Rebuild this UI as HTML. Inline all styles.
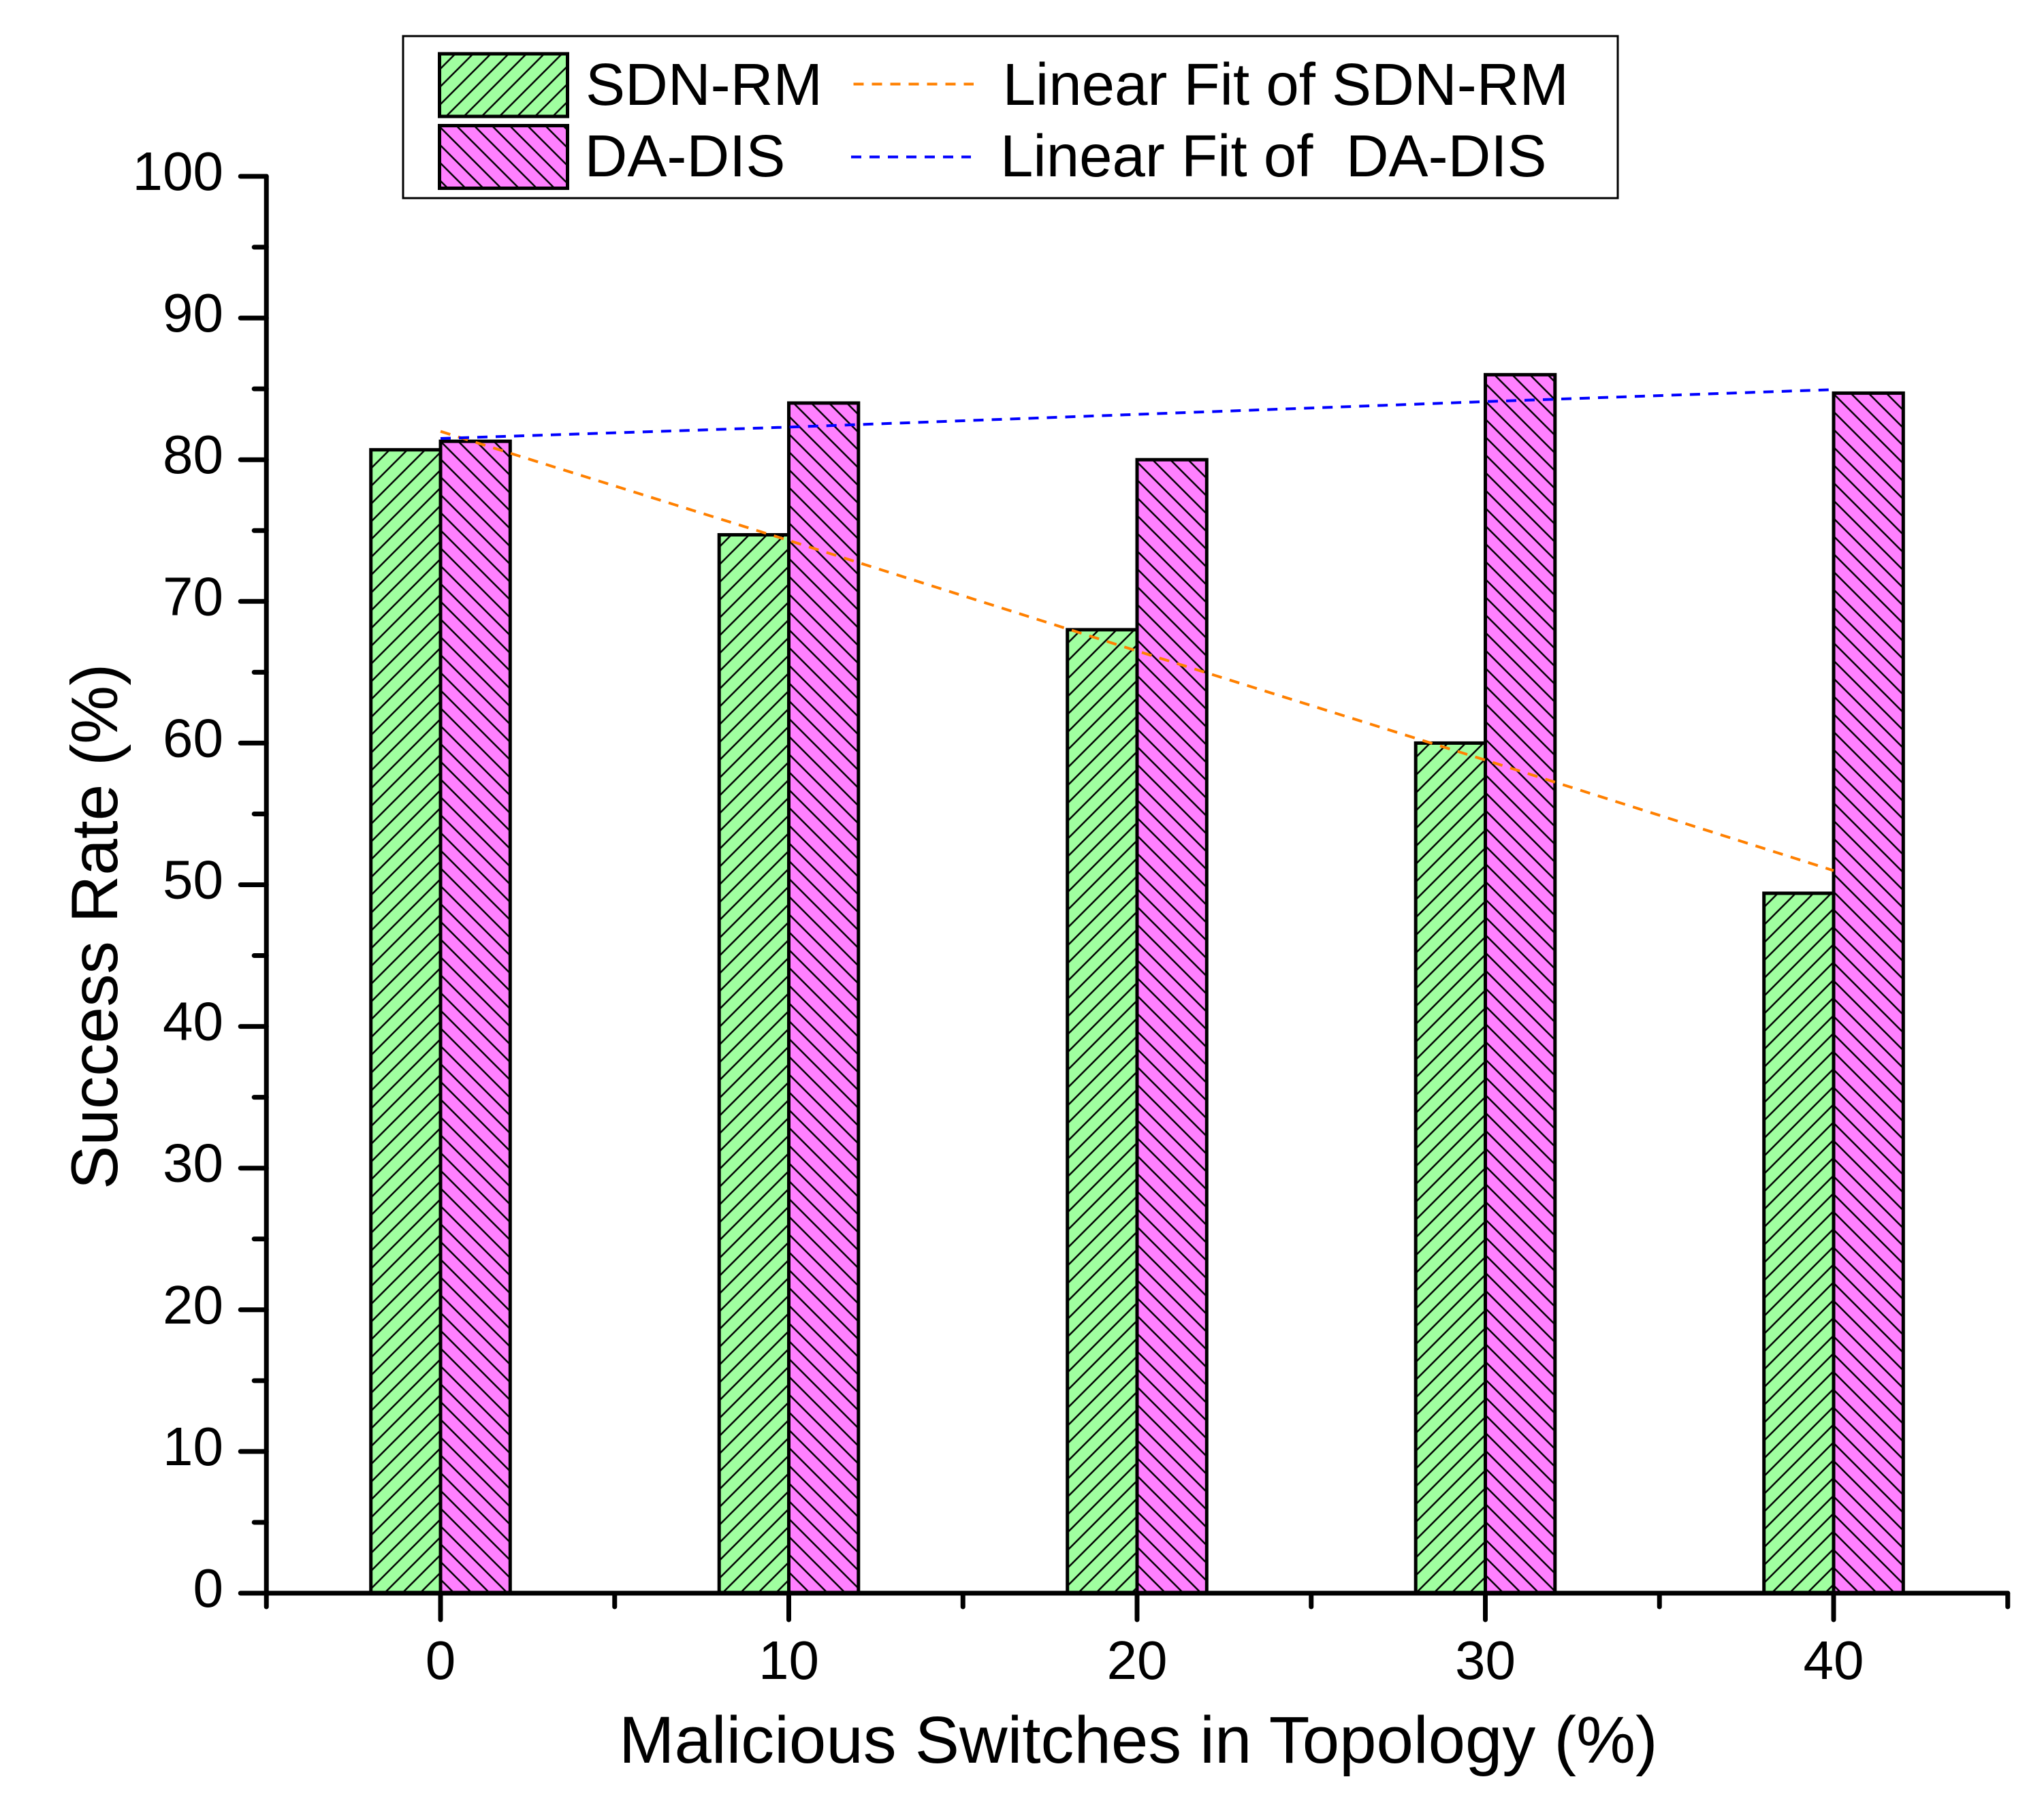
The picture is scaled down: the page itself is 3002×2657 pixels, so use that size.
<!DOCTYPE html>
<html lang="en">
<head>
<meta charset="utf-8">
<title>Success Rate vs Malicious Switches</title>
<style>
  html, body { margin: 0; padding: 0; background: #fff; }
  body { width: 3002px; height: 2657px; overflow: hidden; }
  svg { display: block; }
  text { font-family: "Liberation Sans", Arial, sans-serif; fill: #000; white-space: pre; }
</style>
</head>
<body>
<svg id="chart" xmlns="http://www.w3.org/2000/svg" width="3002" height="2657" viewBox="0 0 3002 2657">
  <rect x="0" y="0" width="3002" height="2657" fill="#fff"/>
  <defs id="chart-defs">
    <pattern id="legend-hatch-green" patternUnits="userSpaceOnUse" width="26.12" height="26.12" patternTransform="translate(16.4,0)">
      <rect x="0" y="0" width="26.12" height="26.12" fill="#A0FFA0"/>
      <path d="M0 26.12L26.12 0M-2 2L2 -2M24.12 28.12L28.12 24.12" stroke="#000" stroke-width="2.5" fill="none"/>
    </pattern>
    <pattern id="legend-hatch-magenta" patternUnits="userSpaceOnUse" width="26.12" height="26.12" patternTransform="translate(15.5,0)">
      <rect x="0" y="0" width="26.12" height="26.12" fill="#FF80FF"/>
      <path d="M0 0L26.12 26.12M-2 24.12L2 28.12M24.12 -2L28.12 2" stroke="#000" stroke-width="2.5" fill="none"/>
    </pattern>
    <pattern id="bar-hatch-green" patternUnits="userSpaceOnUse" width="26.12" height="26.12" patternTransform="translate(5.2,0)">
      <rect x="0" y="0" width="26.12" height="26.12" fill="#A0FFA0"/>
      <path d="M0 26.12L26.12 0M-2 2L2 -2M24.12 28.12L28.12 24.12" stroke="#000" stroke-width="2.5" fill="none"/>
    </pattern>
    <pattern id="bar-hatch-magenta" patternUnits="userSpaceOnUse" width="26.12" height="26.12" patternTransform="translate(-1.2,0)">
      <rect x="0" y="0" width="26.12" height="26.12" fill="#FF80FF"/>
      <path d="M0 0L26.12 26.12M-2 24.12L2 28.12M24.12 -2L28.12 2" stroke="#000" stroke-width="2.5" fill="none"/>
    </pattern>
  </defs>

  <g id="bars-layer"></g>
  <g id="axes-layer"></g>
  <g id="fits-layer"></g>

  <text x="909" y="2589" font-size="97.8">Malicious Switches in Topology (%)</text>
  <text transform="translate(172,1747) rotate(-90)" x="0" y="0" font-size="96.5">Success Rate (%)</text>

  <g>
    <rect x="592" y="53" width="1784" height="238" fill="#fff" stroke="#000" stroke-width="3"/>
    <rect x="645.5" y="79" width="188" height="92" fill="url(#legend-hatch-green)" stroke="#000" stroke-width="5"/>
    <rect x="645.5" y="184.5" width="188" height="92" fill="url(#legend-hatch-magenta)" stroke="#000" stroke-width="5"/>
    <text x="860" y="154" font-size="87">SDN-RM</text>
    <text x="858.5" y="259" font-size="87">DA-DIS</text>
    <line x1="1253.5" y1="123.5" x2="1430" y2="123.5" stroke="#FF8000" stroke-width="4" stroke-dasharray="15 12"/>
    <line x1="1250" y1="230.5" x2="1426" y2="230.5" stroke="#0000FF" stroke-width="4" stroke-dasharray="15 12"/>
    <text x="1472.5" y="154" font-size="87">Linear Fit of SDN-RM</text>
    <text x="1469" y="259" font-size="87" xml:space="preserve">Linear Fit of  DA-DIS</text>
  </g>
</svg>

<script>
const categories = [0, 10, 20, 30, 40];
const sdnRmValues = [80.7, 74.7, 68, 60, 49.4];
const daDisValues = [81.3, 84, 80, 86, 84.7];
const sdnRmFitValues = [82, 74.3, 66.5, 58.8, 51];
const daDisFitValues = [81.5, 82.3, 83.2, 84.1, 84.95];
const yMajorTicks = [0, 10, 20, 30, 40, 50, 60, 70, 80, 90, 100];
const yMinorTicks = [5, 15, 25, 35, 45, 55, 65, 75, 85, 95];
const xMajorTicks = [0, 10, 20, 30, 40];
const xMinorTicks = [-5, 5, 15, 25, 35, 45];
const barWidthUnits = 2;

const SVG_NS = 'http://www.w3.org/2000/svg';
function xScale(v) { return 647 + v * 51.15; }
function yScale(v) { return 2340 - v * 20.81; }

function make(tag, parent, attrs) {
  const el = document.createElementNS(SVG_NS, tag);
  for (const key in attrs) el.setAttribute(key, attrs[key]);
  parent.appendChild(el);
  return el;
}

const barsLayer = document.getElementById('bars-layer');
const axesLayer = document.getElementById('axes-layer');
const fitsLayer = document.getElementById('fits-layer');

categories.forEach(function (cat, i) {
  const green = make('rect', barsLayer, {
    x: xScale(cat - barWidthUnits),
    y: yScale(sdnRmValues[i]),
    width: xScale(cat) - xScale(cat - barWidthUnits),
    height: yScale(0) - yScale(sdnRmValues[i]),
    fill: 'url(#bar-hatch-green)',
    stroke: '#000',
    'stroke-width': 5
  });
  
  

  const magenta = make('rect', barsLayer, {
    x: xScale(cat),
    y: yScale(daDisValues[i]),
    width: xScale(cat + barWidthUnits) - xScale(cat),
    height: yScale(0) - yScale(daDisValues[i]),
    fill: 'url(#bar-hatch-magenta)',
    stroke: '#000',
    'stroke-width': 5
  });
  
  
});

const yAxisLine = make('line', axesLayer, {
  x1: xScale(-5), y1: yScale(100), x2: xScale(-5), y2: yScale(0),
  stroke: '#000', 'stroke-width': 7, 'stroke-linecap': 'round'
});



const xAxisLine = make('line', axesLayer, {
  x1: xScale(-5), y1: yScale(0), x2: xScale(45), y2: yScale(0),
  stroke: '#000', 'stroke-width': 7, 'stroke-linecap': 'round'
});



yMajorTicks.forEach(function (v) {
  const tick = make('line', axesLayer, {
    x1: xScale(-5), y1: yScale(v), x2: xScale(-5) - 38, y2: yScale(v),
    stroke: '#000', 'stroke-width': 7, 'stroke-linecap': 'round'
  });
  
  

  const label = make('text', axesLayer, {
    x: 328, y: yScale(v) + 20, 'font-size': 80, 'text-anchor': 'end'
  });
  label.textContent = String(v);
  
  
});

yMinorTicks.forEach(function (v) {
  const tick = make('line', axesLayer, {
    x1: xScale(-5), y1: yScale(v), x2: xScale(-5) - 18, y2: yScale(v),
    stroke: '#000', 'stroke-width': 7, 'stroke-linecap': 'round'
  });
  
  
});

xMajorTicks.forEach(function (v) {
  const tick = make('line', axesLayer, {
    x1: xScale(v), y1: yScale(0), x2: xScale(v), y2: yScale(0) + 39,
    stroke: '#000', 'stroke-width': 7, 'stroke-linecap': 'round'
  });
  
  

  const label = make('text', axesLayer, {
    x: xScale(v), y: 2466, 'font-size': 80, 'text-anchor': 'middle'
  });
  label.textContent = String(v);
  
  
});

xMinorTicks.forEach(function (v) {
  const tick = make('line', axesLayer, {
    x1: xScale(v), y1: yScale(0), x2: xScale(v), y2: yScale(0) + 20,
    stroke: '#000', 'stroke-width': 7, 'stroke-linecap': 'round'
  });
  
  
});

function fitPoints(values) {
  return categories.map(function (cat, i) {
    return xScale(cat) + ',' + yScale(values[i]);
  }).join(' ');
}

const fitSdn = make('polyline', fitsLayer, {
  points: fitPoints(sdnRmFitValues),
  fill: 'none', stroke: '#FF8000', 'stroke-width': 4, 'stroke-dasharray': '15 12'
});



const fitDa = make('polyline', fitsLayer, {
  points: fitPoints(daDisFitValues),
  fill: 'none', stroke: '#0000FF', 'stroke-width': 4, 'stroke-dasharray': '15 12'
});


</script>
</body>
</html>
